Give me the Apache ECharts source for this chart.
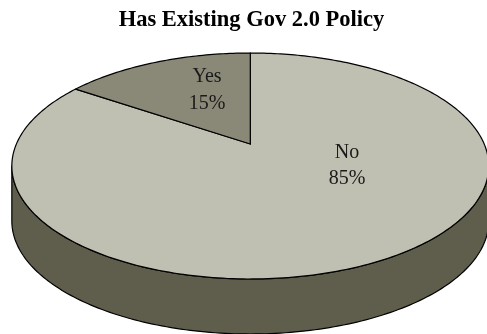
<!DOCTYPE html>
<html>
<head>
<meta charset="utf-8">
<style>html,body{margin:0;padding:0;background:#fff}#chart{width:487px;height:334px}</style>
<script src="https://cdn.jsdelivr.net/npm/echarts@6/dist/echarts.min.js"></script>
</head>
<body>
<div id="chart"></div>
<script>
// Policy survey shares, clockwise from twelve o'clock
const categories = ['No', 'Yes'];
const shares = [85, 15];
const chartTitle = 'Has Existing Gov 2.0 Policy';

const topColors = ['#bfbfb2', '#8a8877'];
const wallColor = '#5f5d4c';
const labelAnchors = [[347, 165.5], [207, 90]];

// Tilted-disc projection: a circle seen in perspective, back edge foreshortened
const disc = { x: 250.3, y: 144, rx: 233.9, ry: 108.7, persp: 0.1947, depth: 55, skew: 2 };
const rad = d => d * Math.PI / 180;

function project(deg, drop) {
  const u = Math.sin(rad(deg)), v = Math.cos(rad(deg));
  const w = 1 + disc.persp * v;
  return [disc.x + disc.rx * u / w, disc.y - disc.ry * v / w + (drop || 0)];
}
function arc(from, to, drop) {
  const pts = [], n = Math.max(2, Math.ceil(Math.abs(to - from)));
  for (let i = 0; i <= n; i++) pts.push(project(from + (to - from) * i / n, drop));
  return pts;
}
// Slice edges are nudged slightly to follow the disc's foreshortening
const edge = a => a + disc.skew * Math.sin(rad(2 * a));

const total = shares.reduce((a, b) => a + b, 0);
const spans = [];
shares.reduce((acc, s) => { spans.push([acc, acc + s * 360 / total]); return acc + s * 360 / total; }, 0);

// Only the part of the rim facing the viewer is visible
const rimFrom = Math.acos(-disc.persp) * 180 / Math.PI, rimTo = 360 - rimFrom;

function renderItem(params) {
  const i = params.dataIndex;
  const a = edge(spans[i][0]), b = edge(spans[i][1]);
  const children = [];
  const lo = Math.max(a, rimFrom), hi = Math.min(b, rimTo);
  if (hi > lo) {
    children.push({
      type: 'polygon',
      shape: { points: arc(lo, hi, 0).concat(arc(hi, lo, disc.depth)) },
      style: { fill: wallColor, stroke: '#000', lineWidth: 1.2, lineJoin: 'round' }
    });
  }
  children.push({
    type: 'polygon',
    shape: { points: [[disc.x, disc.y]].concat(arc(a, b, 0)) },
    style: { fill: topColors[i], stroke: '#000', lineWidth: 1.2, lineJoin: 'miter' }
  });
  children.push({
    type: 'text',
    style: {
      text: categories[i] + '\n' + shares[i] + '%',
      x: labelAnchors[i][0], y: labelAnchors[i][1],
      align: 'center', verticalAlign: 'middle',
      font: '20px "Liberation Serif", serif', lineHeight: 26.5, fill: '#1a1a1a'
    }
  });
  return { type: 'group', children };
}

const chart = echarts.init(document.getElementById('chart'), null, { renderer: 'canvas' });
chart.setOption({
  animation: false,
  backgroundColor: '#fff',
  title: {
    text: chartTitle, left: 246.5, top: 4, textAlign: 'center',
    textStyle: { fontFamily: '"Liberation Serif", serif', fontWeight: 'bold', fontSize: 22.5, color: '#000' }
  },
  series: [{
    type: 'custom',
    coordinateSystem: 'none',
    renderItem,
    data: categories.map((name, i) => ({ name, value: shares[i] }))
  }]
});
</script>
</body>
</html>
